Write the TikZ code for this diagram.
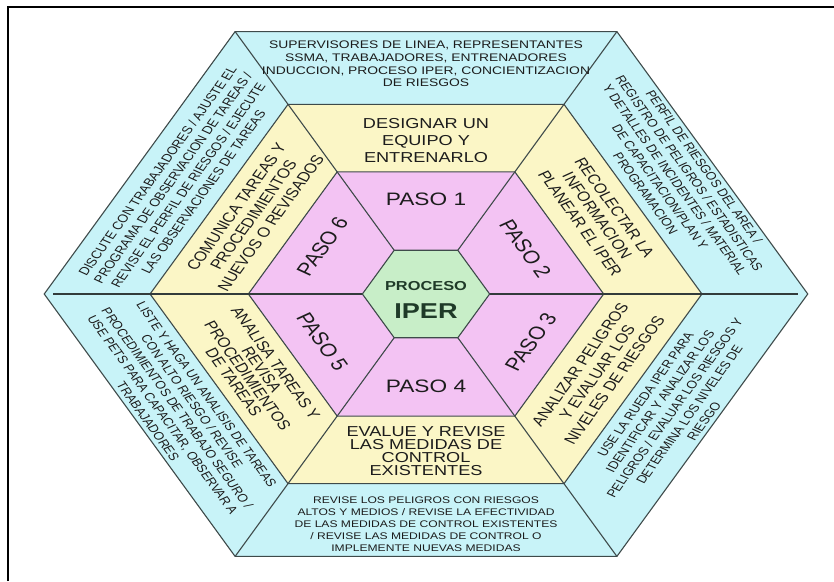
\documentclass[tikz,border=0pt]{standalone}
\usepackage{fontspec}
\setmainfont{Liberation Sans}
\definecolor{cyanfill}{HTML}{C8F3F8}
\definecolor{yellowfill}{HTML}{FBF6C6}
\definecolor{pinkfill}{HTML}{F3C3F3}
\definecolor{greenfill}{HTML}{C8EEC8}
\definecolor{edgecol}{HTML}{3E4A4A}
\definecolor{txtcol}{HTML}{1C1C1C}
\definecolor{ipercol}{HTML}{1F3A28}
\newcommand{\fsz}[2]{\fontsize{#1}{#2}\selectfont}
\tikzset{
  ring/.style={draw=edgecol, line width=1.1pt},
  divider/.style={draw=edgecol, line width=1.1pt},
  midline/.style={draw=edgecol!80!black, line width=1.7pt},
  txt/.style={text=txtcol, align=center, inner sep=0pt, transform shape},
  outertxt/.style={txt, font=\fsz{11}{13.4}},
  bottomtxt/.style={txt, font=\fsz{9.6}{12}},
  yellowtxt/.style={txt, font=\fsz{14.4}{17}},
  yellowdiag/.style={txt, font=\fsz{13.6}{15.8}},
  pasotxt/.style={txt, font=\fsz{18}{20}},
}
\begin{document}
\begin{tikzpicture}[x=1pt,y=1pt]
\useasboundingbox (0,0) rectangle (834,581);
\fill[white] (0,0) rectangle (834,581);
\draw[black, line width=2pt] (8.3,0) -- (8.3,574.3) -- (834,574.3);
\begin{scope}[shift={(426,287)}, xscale=1.26]
  \def\hexpath#1{(0:#1) -- (60:#1) -- (120:#1) -- (180:#1) -- (240:#1) -- (300:#1) -- cycle}
  \filldraw[ring, fill=cyanfill] \hexpath{303};
  \filldraw[ring, fill=yellowfill] \hexpath{219};
  \filldraw[ring, fill=pinkfill] \hexpath{141};
  \foreach \a in {60,120,240,300} \draw[divider] (\a:50.5) -- (\a:303);
  \draw[midline] (180:296) -- (0:295);
  \filldraw[ring, fill=greenfill] \hexpath{50.5};

  % centre
  \node[txt, text=ipercol, font=\fsz{13}{15}\bfseries] (proceso) at (0,7.5) {PROCESO};
  \node[txt, text=ipercol, font=\fsz{21.5}{24}\bfseries] (iper) at (0,-17.5) {IPER};

  % pink ring
  \node[pasotxt] (p1) at (90:95) {PASO 1};
  \node[pasotxt, rotate=-60] (p2) at (30:91) {PASO 2};
  \node[pasotxt, rotate=60] (p3) at (-30:96) {PASO 3};
  \node[pasotxt] (p4) at (-90:92) {PASO 4};
  \node[pasotxt, rotate=-60] (p5) at (-150:95) {PASO 5};
  \node[pasotxt, rotate=60] (p6) at (150:95) {PASO 6};

  % yellow ring
  \node[yellowtxt] (y1) at (90:153) {DESIGNAR UN\\EQUIPO Y\\ENTRENARLO};
  \node[yellowdiag, rotate=-60] (y2) at (30:157) {RECOLECTAR LA\\INFORMACION\\PLANEAR EL IPER};
  \node[yellowdiag, rotate=60] (y3) at (-30:157) {ANALIZAR PELIGROS\\Y EVALUAR LOS\\NIVELES DE RIESGOS};
  \node[yellowtxt, font=\fsz{14.4}{13}] (y4) at (-90:157) {EVALUE Y REVISE\\LAS MEDIDAS DE\\CONTROL\\EXISTENTES};
  \node[yellowdiag, font=\fsz{13.6}{12.8}, rotate=-60] (y5) at (-150:157) {ANALISA TAREAS Y\\REVISA\\PROCEDIMIENTOS\\DE TAREAS};
  \node[yellowdiag, rotate=60] (y6) at (150:158) {COMUNICA TAREAS Y\\PROCEDIMIENTOS\\NUEVOS O REVISADOS};

  % outer ring
  \node[txt, font=\fsz{11}{12.6}] (o1) at (90:230) {SUPERVISORES DE LINEA, REPRESENTANTES\\SSMA, TRABAJADORES, ENTRENADORES\\INDUCCION, PROCESO IPER, CONCIENTIZACION\\DE RIESGOS};
  \node[outertxt, rotate=-60] (o2) at (30:228) {PERFIL DE RIESGOS DEL AREA /\\REGISTRO DE PELIGROS / ESTADISTICAS\\Y DETALLES DE INCIDENTES / MATERIAL\\DE CAPACITACION/PLAN Y\\PROGRAMACION};
  \node[outertxt, rotate=60] (o3) at (-30:228) {USE LA RUEDA IPER PARA\\IDENTIFICAR Y ANALIZAR LOS\\PELIGROS / EVALUAR LOS RIESGOS Y\\DETERMINA LOS NIVELES DE\\RIESGO};
  \node[bottomtxt] (o4) at (-90:230) {REVISE LOS PELIGROS CON RIESGOS\\ALTOS Y MEDIOS / REVISE LA EFECTIVIDAD\\DE LAS MEDIDAS DE CONTROL EXISTENTES\\/ REVISE LAS MEDIDAS DE CONTROL O\\IMPLEMENTE NUEVAS MEDIDAS};
  \node[outertxt, rotate=-60] (o5) at (-150:228) {LISTE Y HAGA UN ANALISIS DE TAREAS\\CON ALTO RIESGO / REVISE\\PROCEDIMIENTOS DE TRABAJO SEGURO /\\USE PETS PARA CAPACITAR, OBSERVAR A\\TRABAJADORES};
  \node[outertxt, font=\fsz{11.2}{14}, rotate=60] (o6) at (150:225) {DISCUTE CON TRABAJADORES / AJUSTE EL\\PROGRAMA DE OBSERVACION DE TAREAS /\\REVISE EL PERFIL DE RIESGOS / EJECUTE\\LAS OBSERVACIONES DE TAREAS};
\end{scope}
\end{tikzpicture}
\end{document}
